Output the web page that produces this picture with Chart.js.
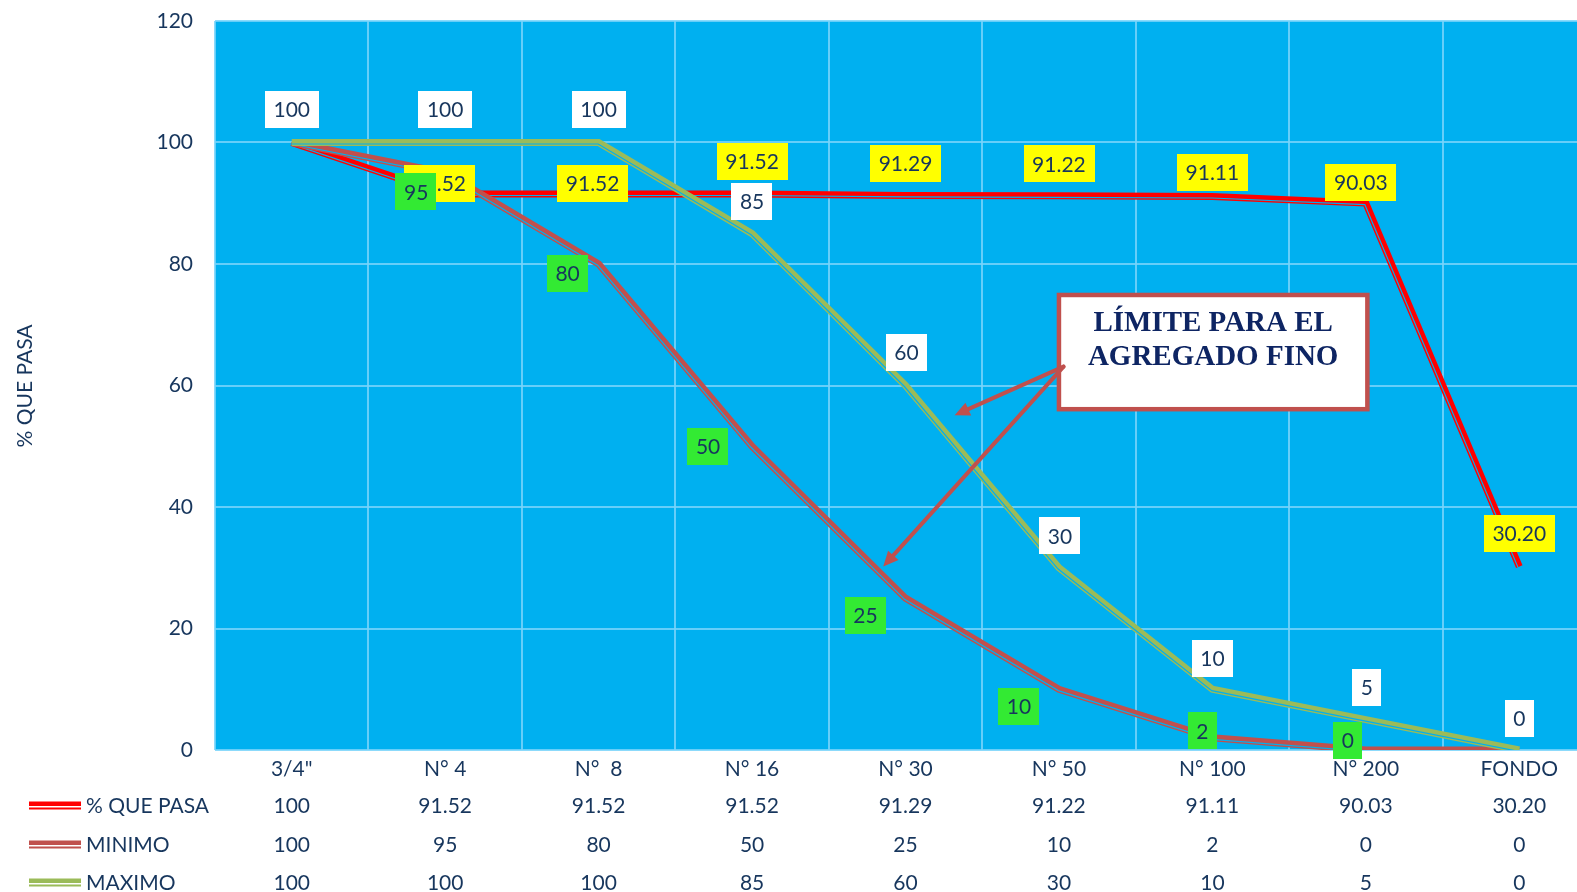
<!DOCTYPE html>
<html>
<head>
<meta charset="utf-8">
<title>Curva granulométrica</title>
<script src="https://cdn.jsdelivr.net/npm/chart.js@4/dist/chart.umd.min.js"></script>
<style>
  html, body { margin: 0; padding: 0; background: #ffffff; overflow: hidden; width: 1577px; height: 892px; }
  #wrap { position: relative; width: 1612px; height: 892px; }
</style>
</head>
<body>
<div id="wrap"><canvas id="curva" width="1612" height="892"></canvas></div>
<script>
// Tamices y porcentajes que pasan
const sieves  = ['3/4"', 'N° 4', 'N°  8', 'N° 16', 'N° 30', 'N° 50', 'N° 100', 'N° 200', 'FONDO'];
const quePasa = [100, 91.52, 91.52, 91.52, 91.29, 91.22, 91.11, 90.03, 30.20];
const minimo  = [100, 95, 80, 50, 25, 10, 2, 0, 0];
const maximo  = [100, 100, 100, 85, 60, 30, 10, 5, 0];
const yTicks  = [0, 20, 40, 60, 80, 100, 120];
const seriesNames = ['% QUE PASA', 'MINIMO', 'MAXIMO'];

// Desplazamiento de las etiquetas de datos (px) respecto a cada punto
const pasaLabelDX = [0, -6, -6, 0, 0, 0, 0, -5, 0];
const pasaLabelDY = [-33, -11, -11, -33, -32, -32, -24, -21, -33];
const minLabelDX  = [0, -29, -31, -44, -40, -40, -10, -18, 0];
const minLabelDY  = [-33, 19, 9, 0, 17, 17, -7, -10, -32];
const maxLabelDX  = [0, 0, 0, 0, 1, 1, 0, 1, 0];
const maxLabelDY  = [-33, -33, -33, -32, -33, -32, -31, -32, -32];

const NAVY = '#17365D';
const PLOT_BG = '#00B0F0';
const GRID = 'rgba(120,212,250,0.85)';
const FONT = 'Lato, "Open Sans", sans-serif';
const C_PASA = '#FF0000', C_MIN = '#C0504D', C_MAX = '#9BBB59';

function fmt(v) { return Number.isInteger(v) ? String(v) : v.toFixed(2); }

// Fondo del área de trazado
const plotBackground = {
  id: 'plotBackground',
  beforeDraw(chart) {
    const { ctx, chartArea: a } = chart;
    ctx.save();
    ctx.fillStyle = PLOT_BG;
    ctx.fillRect(a.left, a.top, a.right - a.left, a.bottom - a.top);
    ctx.restore();
  }
};

// Línea doble (gruesa + fina): se abre una franja del color de fondo junto a cada serie
function offsetPath(pts, d) {
  const n = [];
  for (let k = 0; k < pts.length - 1; k++) {
    const dx = pts[k + 1].x - pts[k].x, dy = pts[k + 1].y - pts[k].y;
    const len = Math.hypot(dx, dy) || 1;
    n.push({ x: -dy / len, y: dx / len });
  }
  return pts.map((p, i) => {
    let m;
    if (i === 0) m = n[0];
    else if (i === pts.length - 1) m = n[n.length - 1];
    else {
      const sx = n[i - 1].x + n[i].x, sy = n[i - 1].y + n[i].y;
      const l = Math.hypot(sx, sy) || 1;
      const u = { x: sx / l, y: sy / l };
      const c = Math.max(0.3, u.x * n[i].x + u.y * n[i].y);
      m = { x: u.x / c, y: u.y / c };
    }
    return { x: p.x + m.x * d, y: p.y + m.y * d };
  });
}
const compoundLine = {
  id: 'compoundLine',
  afterDatasetDraw(chart, args) {
    const pts = args.meta.data.map(p => ({ x: p.x, y: p.y }));
    if (pts.length < 2) return;
    const { ctx, chartArea: a } = chart;
    const path = offsetPath(pts, 1.5);
    ctx.save();
    ctx.beginPath();
    ctx.rect(a.left, a.top, a.right - a.left, a.bottom - a.top);
    ctx.clip();
    ctx.beginPath();
    path.forEach((p, i) => i ? ctx.lineTo(p.x, p.y) : ctx.moveTo(p.x, p.y));
    ctx.strokeStyle = PLOT_BG;
    ctx.lineWidth = 1.2;
    ctx.lineJoin = 'miter';
    ctx.stroke();
    ctx.restore();
  }
};

// Etiquetas de datos en recuadros de color
function drawLabelSet(chart, values, dxs, dys, fill) {
  const { ctx } = chart;
  const xs = chart.scales.x, ys = chart.scales.y;
  ctx.save();
  ctx.font = '21px ' + FONT;
  ctx.textAlign = 'center';
  ctx.textBaseline = 'middle';
  values.forEach((v, i) => {
    const cx = xs.getPixelForValue(i) + dxs[i];
    const cy = ys.getPixelForValue(v) + dys[i];
    const t = fmt(v);
    const w = ctx.measureText(t).width + 17, h = 37;
    ctx.fillStyle = fill;
    ctx.fillRect(Math.round(cx - w / 2), Math.round(cy - h / 2), Math.round(w), h);
    ctx.fillStyle = NAVY;
    ctx.fillText(t, cx, cy + 1);
  });
  ctx.restore();
}
const dataLabels = {
  id: 'dataLabels',
  afterDatasetsDraw(chart) {
    drawLabelSet(chart, quePasa, pasaLabelDX, pasaLabelDY, '#FFFF00');
    drawLabelSet(chart, minimo, minLabelDX, minLabelDY, '#33EA33');
    drawLabelSet(chart, maximo, maxLabelDX, maxLabelDY, '#FFFFFF');
  }
};

// Recuadro "LÍMITE PARA EL AGREGADO FINO" con sus flechas (coordenadas en unidades de los ejes)
const callout = {
  box: { x0: 5.0, x1: 7.01, yTop: 74.9, yBottom: 56.1 },
  from: { x: 5.03, y: 63.1 },
  tips: [{ x: 4.32, y: 55.1 }, { x: 3.855, y: 30.2 }],
  lines: ['LÍMITE PARA EL', 'AGREGADO FINO']
};
function arrow(ctx, x0, y0, x1, y1) {
  const ang = Math.atan2(y1 - y0, x1 - x0);
  const L = 15, W = 7;
  const bx = x1 - Math.cos(ang) * L, by = y1 - Math.sin(ang) * L;
  ctx.beginPath();
  ctx.moveTo(x0, y0);
  ctx.lineTo(bx, by);
  ctx.stroke();
  ctx.beginPath();
  ctx.moveTo(x1, y1);
  ctx.lineTo(bx + Math.sin(ang) * W, by - Math.cos(ang) * W);
  ctx.lineTo(bx - Math.sin(ang) * W, by + Math.cos(ang) * W);
  ctx.closePath();
  ctx.fill();
}
const annotation = {
  id: 'annotation',
  afterDraw(chart) {
    const { ctx } = chart;
    const xs = chart.scales.x, ys = chart.scales.y;
    const b = callout.box;
    const L = xs.getPixelForValue(b.x0), R = xs.getPixelForValue(b.x1);
    const T = ys.getPixelForValue(b.yTop), B = ys.getPixelForValue(b.yBottom);
    ctx.save();
    ctx.fillStyle = '#FFFFFF';
    ctx.fillRect(L, T, R - L, B - T);
    ctx.strokeStyle = C_MIN;
    ctx.lineWidth = 4.5;
    ctx.strokeRect(L, T, R - L, B - T);
    ctx.fillStyle = '#0E2563';
    ctx.font = 'bold 29px "Liberation Serif", "DejaVu Serif", serif';
    ctx.textAlign = 'center';
    ctx.textBaseline = 'middle';
    const cx = (L + R) / 2;
    ctx.fillText(callout.lines[0], cx, T + 29);
    ctx.fillText(callout.lines[1], cx, T + 63);
    // flechas
    ctx.strokeStyle = C_MIN;
    ctx.fillStyle = C_MIN;
    ctx.lineWidth = 4;
    ctx.lineCap = 'round';
    const fx = xs.getPixelForValue(callout.from.x), fy = ys.getPixelForValue(callout.from.y);
    callout.tips.forEach(t => arrow(ctx, fx, fy, xs.getPixelForValue(t.x), ys.getPixelForValue(t.y)));
    ctx.restore();
  }
};

// Tabla de datos bajo el eje X, título del eje Y y claves de la leyenda
const dataTable = {
  id: 'dataTable',
  afterDraw(chart) {
    const { ctx } = chart;
    const xs = chart.scales.x;
    const rows = [quePasa, minimo, maximo];
    const colors = [C_PASA, C_MIN, C_MAX];
    const rowY = [806, 845, 883];
    ctx.save();
    ctx.font = '21px ' + FONT;
    ctx.fillStyle = NAVY;
    ctx.textAlign = 'center';
    ctx.textBaseline = 'middle';
    sieves.forEach((s, i) => ctx.fillText(s, xs.getPixelForValue(i), 769));
    rows.forEach((r, k) => {
      r.forEach((v, i) => ctx.fillText(fmt(v), xs.getPixelForValue(i), rowY[k]));
    });
    ctx.textAlign = 'left';
    seriesNames.forEach((n, k) => {
      const y = rowY[k];
      ctx.fillStyle = colors[k];
      ctx.fillRect(29, y - 4.5, 52, 4.5);
      ctx.fillRect(29, y + 1.5, 52, 2);
      ctx.fillStyle = NAVY;
      ctx.fillText(n, 86, y);
    });
    // título del eje Y
    ctx.translate(25, 386);
    ctx.rotate(-Math.PI / 2);
    ctx.textAlign = 'center';
    ctx.fillText('% QUE PASA', 0, 0);
    ctx.restore();
  }
};

function lineSet(label, data, color, order) {
  return {
    label, data, order,
    borderColor: color,
    backgroundColor: color,
    borderWidth: 7,
    borderJoinStyle: 'miter',
    borderCapStyle: 'butt',
    pointRadius: 0,
    pointHoverRadius: 0,
    tension: 0,
    fill: false
  };
}

new Chart(document.getElementById('curva'), {
  type: 'line',
  data: {
    labels: sieves,
    datasets: [
      lineSet(seriesNames[0], quePasa, C_PASA, 3),
      lineSet(seriesNames[1], minimo, C_MIN, 2),
      lineSet(seriesNames[2], maximo, C_MAX, 1)
    ]
  },
  options: {
    responsive: false,
    animation: false,
    devicePixelRatio: 1,
    layout: { padding: { left: 0, top: 21, right: 16, bottom: 142 } },
    plugins: { legend: { display: false }, tooltip: { enabled: false } },
    scales: {
      x: {
        type: 'category',
        offset: true,
        grid: { offset: true, color: GRID, lineWidth: 2, drawTicks: false },
        border: { display: false },
        ticks: { display: false },
        afterFit(s) { s.height = 0; }
      },
      y: {
        min: 0,
        max: 120,
        afterBuildTicks(s) { s.ticks = yTicks.map(v => ({ value: v })); },
        ticks: { color: NAVY, font: { family: FONT, size: 21 }, padding: 0 },
        grid: { color: GRID, lineWidth: 2, drawTicks: true, tickLength: 22, tickColor: 'rgba(0,0,0,0)' },
        border: { display: false },
        afterFit(s) { s.width = 215; }
      }
    }
  },
  plugins: [plotBackground, compoundLine, dataLabels, annotation, dataTable]
});
</script>
</body>
</html>
